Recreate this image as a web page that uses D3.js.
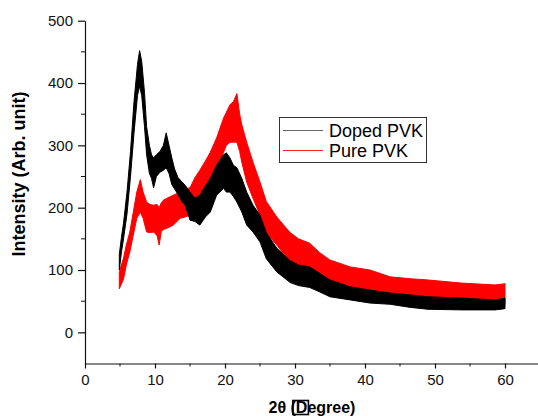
<!DOCTYPE html>
<html>
<head>
<meta charset="utf-8">
<script src="https://cdn.jsdelivr.net/npm/d3@7"></script>
<style>
  body { margin: 0; background: #fff; }
  svg { display: block; font-family: Arial, "Liberation Sans", sans-serif; }
</style>
</head>
<body>
<svg id="chart" width="538" height="416"></svg>
<script>
// Doped PVK: 2-theta positions with lower / upper edge of the noisy trace
const dopedTheta = [4.9, 5.2, 5.5, 6.0, 6.5, 7.0, 7.5, 7.8, 8.1, 8.5, 8.8, 9.2, 9.5, 9.8, 10.2, 10.7, 11.2, 11.6, 12.0, 12.4, 12.8, 13.3, 13.8, 14.3, 15.0, 15.7, 16.4, 17.2, 17.9, 18.8, 19.8, 20.2, 20.7, 21.2, 21.7, 22.4, 23.1, 24.0, 25.0, 25.9, 27.4, 29.3, 30.5, 32.1, 33.5, 35.0, 37.9, 40.7, 43.6, 46.5, 49.0, 53.8, 58.6, 60.0];
const dopedLow   = [100, 128, 150, 190, 250, 320, 380, 395, 380, 330, 285, 255, 247, 232, 250, 257, 260, 264, 255, 237, 230, 221, 210, 204, 180, 178, 172, 185, 193, 220, 231, 225, 225, 218, 209, 193, 172, 161, 145, 118, 97, 80, 75, 72, 65, 57, 52, 47, 45, 40, 37, 36, 36, 38];
const dopedHigh  = [125, 152, 175, 225, 290, 370, 430, 452, 435, 385, 330, 300, 285, 280, 285, 290, 300, 320, 300, 280, 262, 248, 242, 236, 225, 215, 220, 235, 247, 268, 285, 288, 280, 268, 264, 247, 225, 204, 188, 160, 135, 115, 108, 105, 95, 84, 73, 68, 63, 60, 57, 55, 52, 55];

// Pure PVK
const pureTheta = [4.9, 5.5, 5.9, 6.4, 6.9, 7.4, 7.9, 8.3, 8.8, 9.3, 9.8, 10.3, 10.6, 10.9, 11.2, 11.7, 12.6, 13.6, 14.3, 15.0, 15.7, 16.4, 17.2, 17.9, 18.8, 19.8, 20.2, 20.7, 21.2, 21.7, 22.1, 22.4, 23.1, 24.0, 25.0, 25.9, 27.4, 29.3, 30.5, 32.1, 33.5, 35.0, 37.9, 40.7, 43.6, 46.5, 49.0, 53.8, 58.6, 60.0];
const pureLow   = [70, 85, 108, 129, 156, 183, 193, 183, 161, 160, 161, 155, 140, 162, 165, 167, 172, 183, 185, 188, 200, 215, 225, 236, 257, 289, 300, 305, 305, 305, 290, 273, 241, 215, 188, 160, 140, 112, 105, 95, 85, 75, 68, 63, 57, 52, 47, 44, 41, 45];
const pureHigh  = [97, 119, 140, 161, 193, 225, 245, 225, 209, 205, 204, 205, 200, 208, 212, 215, 220, 225, 230, 232, 248, 260, 275, 289, 312, 344, 353, 365, 370, 383, 350, 333, 305, 273, 241, 210, 185, 160, 150, 143, 128, 116, 105, 100, 89, 86, 84, 79, 76, 78];

const xTicks = [0, 10, 20, 30, 40, 50, 60];
const xMinor = [5, 15, 25, 35, 45, 55];
const yTicks = [0, 100, 200, 300, 400, 500];
const yMinor = [50, 150, 250, 350, 450];

const svg = d3.select("#chart");

const x = d3.scaleLinear().domain([0, 65]).range([85, 540]);
const y = d3.scaleLinear().domain([-50, 500]).range([363.5, 20.7]);

function band(theta, lo, hi) {
    return theta.map((t, i) => ({ t, lo: lo[i], hi: hi[i] }));
}

const area = d3.area()
    .x(d => x(d.t))
    .y0(d => y(d.lo))
    .y1(d => y(d.hi));

// pure first, doped drawn over it
svg.append("path")
    .datum(band(pureTheta, pureLow, pureHigh))
    .attr("d", area)
    .attr("fill", "#ff0000")
    .attr("stroke", "#ff0000")
    .attr("stroke-width", 1);

svg.append("path")
    .datum(band(dopedTheta, dopedLow, dopedHigh))
    .attr("d", area)
    .attr("fill", "#000")
    .attr("stroke", "#000")
    .attr("stroke-width", 1);

// axes
const xAxis = svg.append("g")
    .attr("transform", `translate(0,${y(-50)})`)
    .call(d3.axisBottom(x).tickValues(xTicks).tickSize(5).tickPadding(6).tickSizeOuter(0));

xAxis.append("g").selectAll("line")
    .data(xMinor)
    .join("line")
    .attr("x1", d => x(d)).attr("x2", d => x(d))
    .attr("y1", 0).attr("y2", 3)
    .attr("stroke", "#111");

const yAxis = svg.append("g")
    .attr("transform", `translate(${x(0)},0)`)
    .call(d3.axisLeft(y).tickValues(yTicks).tickSize(7).tickPadding(5).tickSizeOuter(0));

yAxis.append("g").selectAll("line")
    .data(yMinor)
    .join("line")
    .attr("y1", d => y(d)).attr("y2", d => y(d))
    .attr("x1", 0).attr("x2", -4)
    .attr("stroke", "#111");

svg.selectAll(".domain").attr("stroke", "#111").attr("stroke-width", 1.2);
svg.selectAll(".tick line").attr("stroke", "#111").attr("stroke-width", 1.2);
svg.selectAll(".tick text")
    .attr("fill", "#111")
    .style("font-size", "15px")
    .style("font-family", "Arial, 'Liberation Sans', sans-serif");

// axis titles
svg.append("text")
    .attr("transform", "translate(25,174) rotate(-90)")
    .attr("text-anchor", "middle")
    .style("font-size", "18px")
    .style("font-weight", "bold")
    .attr("fill", "#000")
    .text("Intensity (Arb. unit)");

const xTitle = svg.append("text")
    .attr("x", 312)
    .attr("y", 412.5)
    .attr("text-anchor", "middle")
    .style("font-size", "16px")
    .style("font-weight", "bold")
    .attr("fill", "#000")
    .text("2θ (Degree)");

// the missing-glyph box drawn around the D in the original
const dBox = xTitle.node().getExtentOfChar(4);
svg.append("rect")
    .attr("x", dBox.x - 3)
    .attr("y", 400.5)
    .attr("width", dBox.width + 4)
    .attr("height", 14)
    .attr("fill", "none")
    .attr("stroke", "#000")
    .attr("stroke-width", 1.6);

// legend
const legendItems = [
    { name: "Doped PVK", color: "#666" },
    { name: "Pure PVK", color: "#ff2020" }
];

const legend = svg.append("g").attr("transform", "translate(279,117)");

legend.append("rect")
    .attr("x", 0.5)
    .attr("y", 0.5)
    .attr("width", 147)
    .attr("height", 45)
    .attr("fill", "#fff")
    .attr("stroke", "#333")
    .attr("stroke-width", 1);

legendItems.forEach((item, i) => {
    const yy = 13 + i * 20;
    legend.append("rect")
        .attr("x", 4)
        .attr("y", yy)
        .attr("width", 40)
        .attr("height", 1)
        .attr("fill", item.color)
        .attr("shape-rendering", "crispEdges");

    legend.append("text")
        .attr("x", 50)
        .attr("y", yy + 7.3)
        .style("font-size", "18px")
        .attr("fill", "#000")
        .text(item.name);
});
</script>
</body>
</html>
